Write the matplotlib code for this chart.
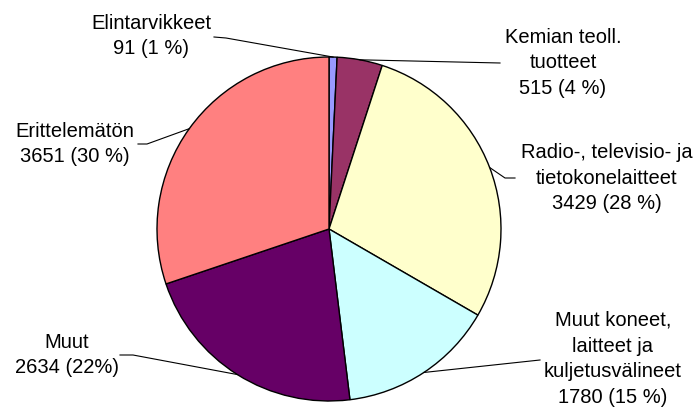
import numpy as np
import matplotlib
matplotlib.use("Agg")
import matplotlib.pyplot as plt

plt.rcParams['font.family'] = ['Liberation Sans', 'DejaVu Sans']

# data
labels = ["Elintarvikkeet", "Kemian teoll.\ntuotteet", "Radio-, televisio- ja\ntietokonelaitteet",
          "Muut koneet,\nlaitteet ja\nkuljetusvälineet", "Muut", "Erittelemätön"]
values = [91, 515, 3429, 1780, 2634, 3651]
pct_text = ["1 %", "4 %", "28 %", "15 %", "22%", "30 %"]
colors = ["#9999FF", "#993366", "#FFFFCC", "#CCFFFF", "#660066", "#FF8080"]

# layout (pixel coords, y measured from top of image)
W, H = 696, 409
cx, cy, R = 329, 229, 172
text_pos = [(151, 36), (563, 63), (607, 178), (613, 359), (67, 355), (75, 144)]
elbow_start = [(214, 37), (500, 63), (515, 178), (540, 360), (120, 355), (138, 144)]
elbow_mid = [(226, 38), None, (505, 178), None, (133, 355), (147, 144)]

fig = plt.figure(figsize=(W / 100, H / 100), dpi=100)
ax = fig.add_axes([0, 0, 1, 1])
ax.set_xlim(0, W)
ax.set_ylim(0, H)
ax.set_aspect('equal')
ax.axis('off')

wedges, _ = ax.pie(values, colors=colors, startangle=90, counterclock=False,
                   center=(cx, H - cy), radius=R,
                   wedgeprops=dict(edgecolor='black', linewidth=1.0))
ax.set_xlim(0, W)
ax.set_ylim(0, H)

for i, w in enumerate(wedges):
    ang = np.deg2rad((w.theta1 + w.theta2) / 2)
    ex = cx + R * np.cos(ang)
    ey = (H - cy) + R * np.sin(ang)
    pts = [elbow_start[i]]
    if elbow_mid[i] is not None:
        pts.append(elbow_mid[i])
    xs = [p[0] for p in pts] + [ex]
    ys = [H - p[1] for p in pts] + [ey]
    ax.plot(xs, ys, color='black', linewidth=0.8, zorder=5)
    tx, ty = text_pos[i]
    ax.text(tx, H - ty, "%s\n%d (%s)" % (labels[i], values[i], pct_text[i]),
            ha='center', va='center', multialignment='center',
            fontsize=14.5, linespacing=1.45, color='black')

fig.savefig("out.png", dpi=100)
